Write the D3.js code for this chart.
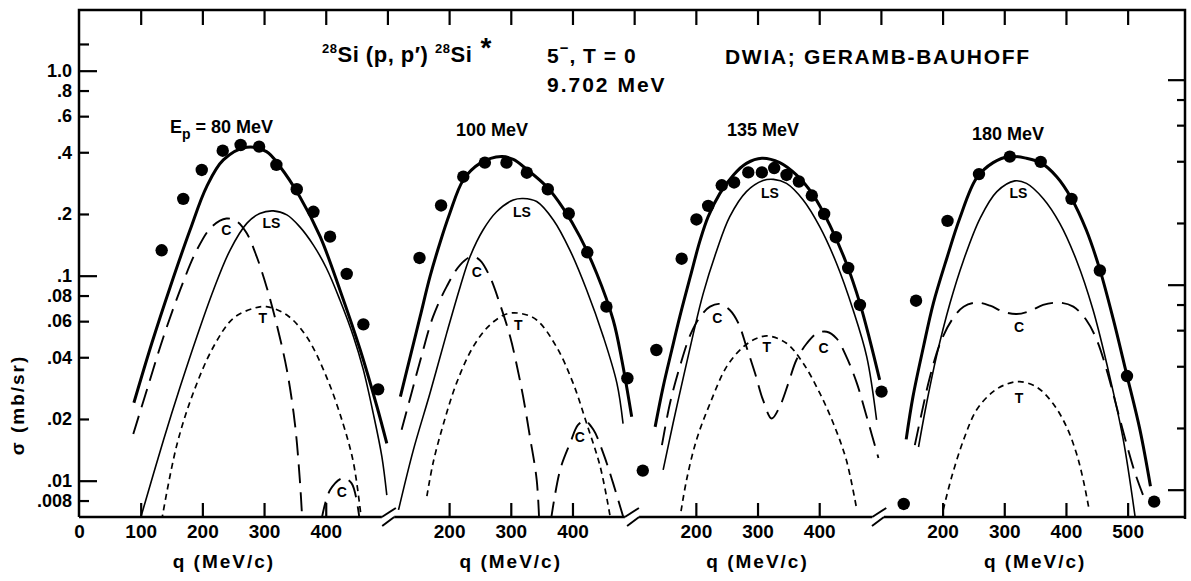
<!DOCTYPE html>
<html><head><meta charset="utf-8">
<script src="https://cdn.jsdelivr.net/npm/d3@7"></script>
<style>
html,body{margin:0;padding:0;background:#fff;}
svg{display:block;}
text{font-family:"Liberation Sans",Arial,sans-serif;font-weight:bold;fill:#000;}
</style></head><body>
<svg id="chart" width="1191" height="581"></svg>
<script>
// ---- Data: q in MeV/c (local to each panel), sigma in mb/sr ----
const energies = ["80", "100", "135", "180"];
const panelOffsets = [0, 400, 800, 1200];
const panelExtents = [[0, 491], [111, 485], [108, 486], [105, 593]];
const panelTicks = [[0, 100, 200, 300, 400], [200, 300, 400], [200, 300, 400], [200, 300, 400, 500]];

// Panel 1 (Ep = 80 MeV)
const p1Total = [[89,0.0240],[118,0.0468],[148,0.0884],[180,0.167],[207,0.272],[234,0.367],[272,0.423],[304,0.403],[326,0.340],[358,0.243],[391,0.155],[423,0.0852],[456,0.0434],[483,0.0230],[499,0.0152]];
const p1LS = [[100,0.0066],[137,0.0158],[164,0.0287],[191,0.0504],[218,0.0852],[245,0.1334],[272,0.180],[293,0.201],[315,0.207],[337,0.198],[358,0.173],[380,0.141],[401,0.109],[423,0.0761],[445,0.0504],[461,0.0347],[477,0.0213],[491,0.0131],[499,0.0085]];
const p1C = [[88,0.0169],[110,0.0277],[137,0.0504],[164,0.0852],[191,0.1334],[215,0.173],[239,0.190],[256,0.184],[272,0.161],[288,0.124],[304,0.0884],[320,0.0586],[337,0.0347],[350,0.019],[358,0.0101],[362,0.0064]];
const p1C2 = [[393,0.0064],[407,0.0090],[428,0.0103],[442,0.0097],[455,0.0064]];
const p1T = [[134,0.0064],[158,0.0147],[185,0.0267],[218,0.045],[250,0.0619],[283,0.0693],[304,0.0706],[337,0.0643],[369,0.0504],[401,0.0322],[428,0.019],[445,0.0122],[458,0.0064]];
const p1Dots = [[134,0.133],[169,0.237],[199,0.328],[233,0.407],[262,0.434],[292,0.426],[320,0.347],[353,0.264],[380,0.205],[407,0.155],[434,0.102],[461,0.0579],[485,0.0279]];

// Panel 2 (100 MeV)
const p2Total = [[121,0.0257],[137,0.0403],[153,0.0631],[169,0.0989],[185,0.144],[201,0.201],[223,0.293],[250,0.353],[285,0.381],[304,0.369],[326,0.330],[358,0.272],[385,0.213],[412,0.155],[439,0.103],[466,0.0608],[480,0.0388],[496,0.0205]];
const p2LS = [[118,0.0072],[142,0.0141],[169,0.0267],[196,0.0523],[218,0.0884],[234,0.124],[255,0.167],[277,0.205],[304,0.234],[320,0.238],[342,0.230],[369,0.187],[396,0.133],[423,0.0852],[450,0.0504],[472,0.0299],[482,0.019]];
const p2C = [[123,0.0177],[139,0.0267],[155,0.0403],[174,0.0631],[196,0.0884],[218,0.113],[237,0.124],[250,0.119],[266,0.0989],[282,0.0733],[299,0.0504],[309,0.0374],[320,0.0257],[331,0.0164],[342,0.0101],[346,0.0064]];
const p2C2 = [[365,0.0064],[380,0.0113],[396,0.0152],[409,0.0187],[420,0.0196],[434,0.0177],[450,0.0136],[466,0.0097],[482,0.0067]];
const p2T = [[164,0.0084],[174,0.0122],[191,0.019],[212,0.0299],[239,0.045],[266,0.0575],[293,0.065],[315,0.0655],[342,0.0608],[374,0.045],[401,0.0299],[423,0.019],[445,0.0117],[461,0.0067]];
const p2Dots = [[152,0.122],[187,0.220],[223,0.304],[258,0.356],[293,0.356],[326,0.318],[360,0.264],[394,0.201],[424,0.130],[455,0.0706],[489,0.0316]];

// Panel 3 (135 MeV)
const p3Total = [[134,0.0183],[147,0.0287],[161,0.0434],[174,0.0631],[191,0.0989],[207,0.149],[220,0.194],[239,0.252],[261,0.310],[282,0.353],[307,0.374],[336,0.356],[363,0.310],[390,0.248],[417,0.177],[444,0.115],[466,0.0733],[482,0.0486],[498,0.031]];
const p3LS = [[147,0.0113],[163,0.019],[180,0.0322],[196,0.0523],[212,0.082],[234,0.133],[255,0.194],[282,0.257],[309,0.291],[326,0.295],[347,0.282],[374,0.234],[401,0.173],[428,0.115],[455,0.068],[477,0.0403],[493,0.0198]];
const p3C = [[145,0.0149],[158,0.0238],[174,0.036],[191,0.0514],[207,0.0631],[223,0.0706],[239,0.0728],[255,0.068],[269,0.0586],[282,0.045],[296,0.0334],[309,0.0247],[323,0.0201],[336,0.023],[350,0.0299],[363,0.0388],[380,0.0468],[396,0.0523],[412,0.0533],[428,0.0495],[444,0.0403],[461,0.0299],[477,0.0205],[496,0.0129]];
const p3T = [[176,0.0071],[185,0.0101],[201,0.0158],[223,0.0238],[250,0.036],[277,0.045],[299,0.0495],[317,0.0508],[347,0.0468],[374,0.0374],[401,0.0267],[423,0.019],[444,0.0126],[461,0.0072]];
const p3Dots = [[114,0.0112],[136,0.0434],[177,0.121],[201,0.188],[220,0.219],[242,0.276],[262,0.285],[285,0.319],[307,0.319],[327,0.335],[347,0.310],[367,0.288],[388,0.246],[408,0.200],[427,0.154],[447,0.109],[466,0.072],[501,0.0272]];

// Panel 4 (180 MeV)
const p4Total = [[141,0.0159],[152,0.0257],[169,0.045],[185,0.0733],[207,0.122],[228,0.191],[255,0.299],[282,0.356],[309,0.381],[336,0.374],[359,0.356],[385,0.304],[409,0.238],[433,0.167],[455,0.107],[477,0.0608],[498,0.0334],[520,0.0177],[537,0.0094]];
const p4LS = [[161,0.0146],[174,0.0238],[190,0.0403],[212,0.0733],[234,0.119],[261,0.191],[288,0.257],[317,0.290],[336,0.282],[363,0.238],[390,0.180],[417,0.119],[444,0.068],[471,0.0322],[493,0.0158],[512,0.0067]];
const p4C = [[155,0.0149],[166,0.0213],[179,0.0316],[196,0.0468],[215,0.0608],[234,0.0706],[255,0.0739],[277,0.0714],[298,0.0668],[320,0.065],[342,0.0673],[363,0.072],[390,0.0739],[412,0.0706],[433,0.0608],[450,0.0486],[466,0.0347],[482,0.023],[498,0.0152],[512,0.0109],[525,0.0085]];
const p4T = [[201,0.0072],[215,0.0105],[234,0.0158],[255,0.0221],[282,0.0272],[304,0.0296],[325,0.0304],[352,0.0287],[379,0.0238],[401,0.0183],[417,0.0136],[428,0.0101],[438,0.0071]];
const p4Dots = [[137,0.0077],[157,0.0755],[208,0.185],[259,0.313],[309,0.381],[359,0.359],[409,0.237],[455,0.106],[499,0.0324],[543,0.0079]];

// Curve labels: [panel, text, q, sigma]
const curveLabels = [
  [0,"C",239,0.167],[0,"LS",312,0.18],[0,"T",298,0.062],[0,"C",426,0.00884],
  [1,"LS",318,0.205],[1,"C",245,0.1046],[1,"T",312,0.0575],[1,"C",412,0.0164],
  [2,"C",235,0.062],[2,"LS",320,0.252],[2,"T",315,0.045],[2,"C",407,0.0442],
  [3,"LS",323,0.252],[3,"C",324,0.0564],[3,"T",324,0.0252]
];

// Axis ticks
const yMajorTicks = [1, 0.1, 0.01];
const yMinorTicks = [1.35, 0.8, 0.6, 0.4, 0.2, 0.08, 0.06, 0.04, 0.02, 0.008];
const yTickLabels = {"1":"1.0","0.8":".8","0.6":".6","0.4":".4","0.2":".2","0.1":".1","0.08":".08","0.06":".06","0.04":".04","0.02":".02","0.01":".01","0.008":".008"};
const rightMajorTicks = [1, 0.1, 0.01];
const rightMinorTicks = [0.8, 0.6, 0.4, 0.2, 0.08, 0.06, 0.04, 0.02];
const topTicks = [100,200,300,400,500,600,700,800,900,1000,1100,1200,1300,1400,1500,1600,1700];

const panels = [
  {total:p1Total, ls:p1LS, c:[p1C,p1C2], t:p1T, dots:p1Dots},
  {total:p2Total, ls:p2LS, c:[p2C,p2C2], t:p2T, dots:p2Dots},
  {total:p3Total, ls:p3LS, c:[p3C], t:p3T, dots:p3Dots},
  {total:p4Total, ls:p4LS, c:[p4C], t:p4T, dots:p4Dots}
];

// ---- Chart ----
const svg = d3.select("#chart");
const L = 79, R = 1185, T = 10, B = 517;
const x = d3.scaleLinear().domain([0, 1793]).range([L, R]);
const y = d3.scaleLog().domain([0.00665, 1.977]).range([B, T]);

svg.append("defs").append("clipPath").attr("id","plotclip")
  .append("rect").attr("x",L).attr("y",T).attr("width",R-L).attr("height",B-T);

const plot = svg.append("g").attr("clip-path","url(#plotclip)");

panels.forEach((p, i) => {
  const off = panelOffsets[i];
  const line = d3.line().x(d => x(d[0] + off)).y(d => y(d[1])).curve(d3.curveCatmullRom.alpha(0.5));
  const g = plot.append("g");
  g.append("path").attr("d", line(p.t)).attr("fill","none").attr("stroke","#000")
    .attr("stroke-width",1.7).attr("stroke-dasharray","6,4.5");
  p.c.forEach(seg => {
    g.append("path").attr("d", line(seg)).attr("fill","none").attr("stroke","#000")
      .attr("stroke-width",1.9).attr("stroke-dasharray","19,9");
  });
  g.append("path").attr("d", line(p.ls)).attr("fill","none").attr("stroke","#000").attr("stroke-width",1.6);
  g.append("path").attr("d", line(p.total)).attr("fill","none").attr("stroke","#000").attr("stroke-width",3);
  g.selectAll("circle").data(p.dots).join("circle")
    .attr("cx", d => x(d[0] + off)).attr("cy", d => y(d[1])).attr("r", 6.2).attr("fill","#000");
});

// curve labels
svg.append("g").selectAll("text").data(curveLabels).join("text")
  .attr("x", d => x(d[2] + panelOffsets[d[0]])).attr("y", d => y(d[3]))
  .attr("text-anchor","middle").attr("dominant-baseline","central")
  .attr("font-size", 14).text(d => d[1]);

// frame
const frame = svg.append("g").attr("stroke","#000").attr("stroke-width",2.5).attr("fill","none");
frame.append("path").attr("d", `M${L},${B}V${T}H${R}V${B+2}`);

// bottom axis segments with breaks
panels.forEach((p, i) => {
  const off = panelOffsets[i];
  const ext = panelExtents[i];
  const xs = x.copy().domain(x.domain().map(v => v - off));
  const gax = svg.append("g").attr("transform", `translate(0,${B})`)
    .call(d3.axisBottom(xs).tickValues(panelTicks[i]).tickSize(-14).tickPadding(8).tickFormat(d3.format("d")));
  gax.select(".domain").remove();
  gax.selectAll(".tick line").attr("stroke-width",2.2);
  gax.selectAll(".tick text").attr("font-size",19).attr("font-family",'"Liberation Sans",Arial,sans-serif');
  if (i === 0) gax.selectAll(".tick").filter(d => d === 0).select("line").remove();
  const x0 = xs(ext[0]), x1 = xs(ext[1]);
  svg.append("line").attr("x1",x0).attr("x2",x1).attr("y1",B).attr("y2",B)
    .attr("stroke","#000").attr("stroke-width",2.5);
  if (i > 0) {
    svg.append("line").attr("x1",x0-12).attr("y1",B+9).attr("x2",x0).attr("y2",B)
      .attr("stroke","#000").attr("stroke-width",2);
  }
  if (i < panels.length - 1) {
    svg.append("line").attr("x1",x1).attr("y1",B).attr("x2",x1+14).attr("y2",B-9)
      .attr("stroke","#000").attr("stroke-width",2);
  }
  // axis title
  const mid = xs((panelTicks[i][0] + panelTicks[i][panelTicks[i].length-1]) / 2 + (i === 0 ? 35 : 0));
  svg.append("text").attr("x", mid).attr("y", 568).attr("text-anchor","middle")
    .attr("font-size",19).attr("letter-spacing",2).text("q (MeV/c)");
});

// top ticks
const gTop = svg.append("g").attr("transform", `translate(0,${T})`)
  .call(d3.axisTop(x).tickValues(topTicks).tickSize(-15).tickFormat(""));
gTop.select(".domain").remove();
gTop.selectAll(".tick line").attr("stroke-width",2.2);

// left axis
const fmt = d => yTickLabels[String(d)] || "";
const gLM = svg.append("g").attr("transform", `translate(${L},0)`)
  .call(d3.axisLeft(y).tickValues(yMajorTicks).tickSize(-18).tickPadding(7).tickFormat(fmt));
const gLm = svg.append("g").attr("transform", `translate(${L},0)`)
  .call(d3.axisLeft(y).tickValues(yMinorTicks).tickSize(-10).tickPadding(7).tickFormat(fmt));
[gLM, gLm].forEach(g => {
  g.select(".domain").remove();
  g.selectAll(".tick line").attr("stroke-width",2.2);
  g.selectAll(".tick text").attr("font-size",18).attr("font-family",'"Liberation Sans",Arial,sans-serif');
});

// right axis (slightly lower, as in the scanned original)
const gRM = svg.append("g").attr("transform", `translate(${R},9)`)
  .call(d3.axisRight(y).tickValues(rightMajorTicks).tickSize(-17).tickFormat(""));
const gRm = svg.append("g").attr("transform", `translate(${R},9)`)
  .call(d3.axisRight(y).tickValues(rightMinorTicks).tickSize(-8).tickFormat(""));
[gRM, gRm].forEach(g => { g.select(".domain").remove(); g.selectAll(".tick line").attr("stroke-width",2.2); });

// y title
svg.append("text").attr("transform","translate(24,405) rotate(-90)").attr("text-anchor","middle")
  .attr("font-size",19).attr("letter-spacing",2).text("σ (mb/sr)");

// titles
const t1 = svg.append("text").attr("x",322).attr("y",62).attr("font-size",22).attr("letter-spacing",0.5);
t1.append("tspan").attr("font-size",13).attr("dy",-9).text("28");
t1.append("tspan").attr("dy",9).text("Si (p, p′) ");
t1.append("tspan").attr("font-size",13).attr("dy",-9).text("28");
t1.append("tspan").attr("dy",9).text("Si");
t1.append("tspan").attr("font-size",28).attr("dy",-5).text(" *");

const t2 = svg.append("text").attr("x",547).attr("y",63).attr("font-size",21).attr("letter-spacing",1);
t2.append("tspan").text("5");
t2.append("tspan").attr("dy",-10).attr("font-size",15).text("−");
t2.append("tspan").attr("dy",10).text(", T = 0");

svg.append("text").attr("x",547).attr("y",92).attr("font-size",21).attr("letter-spacing",2).text("9.702 MeV");
svg.append("text").attr("x",725).attr("y",64).attr("font-size",21).attr("letter-spacing",1.7).text("DWIA; GERAMB-BAUHOFF");

// panel energy labels
const panelLabelPos = [[170,133],[456,136],[727,136],[972,140]];
energies.forEach((e, i) => {
  const tx = svg.append("text").attr("x", panelLabelPos[i][0]).attr("y", panelLabelPos[i][1]).attr("font-size",18);
  if (i === 0) {
    tx.append("tspan").text("E");
    tx.append("tspan").attr("dy",6).attr("font-size",14).text("p");
    tx.append("tspan").attr("dy",-6).text(" = " + e + " MeV");
  } else {
    tx.text(e + " MeV");
  }
});
</script>
</body></html>
